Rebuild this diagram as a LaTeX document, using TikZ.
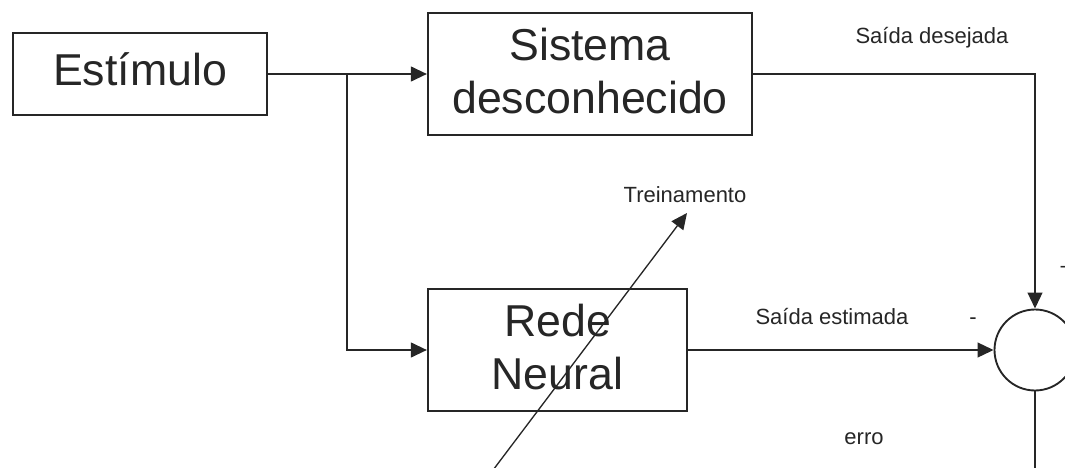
\documentclass[tikz,border=0pt]{standalone}
\usepackage{fontspec}
\setmainfont{Liberation Sans}
\usetikzlibrary{arrows.meta}
\begin{document}
\begin{tikzpicture}[x=0.75pt,y=-0.75pt,color=black!85,
  blk/.style={draw, line width=1.6pt, align=center, inner sep=0pt,
    font=\fontsize{33.5}{40}\selectfont},
  sumnode/.style={draw, circle, line width=1.4pt, inner sep=0pt, minimum size=60.75pt},
  conn/.style={line width=1.6pt},
  tip/.style={-{Triangle[length=12pt,width=11pt]}},
  lbl/.style={font=\fontsize{16.5}{20}\selectfont, anchor=base, inner sep=0pt}]
  \clip (0,0) rectangle (1065,468);

  % blocks
  \node[blk, minimum width=190.5pt, minimum height=61.5pt, text depth=7.5pt] (est) at (140,74) {Estímulo};
  \node[blk, minimum width=243pt, minimum height=91.5pt, text depth=5pt] (sis) at (590,74) {Sistema\\desconhecido};
  \node[blk, minimum width=194.25pt, minimum height=91.5pt, text depth=5pt] (rede) at (557.5,350) {Rede\\Neural};
  \node[sumnode] (sum) at (1035,350) {};

  % helper points
  \coordinate (split) at (347,74);
  \coordinate (errout) at (1035,480);
  \coordinate (trstart) at (478,490);
  \coordinate (trend) at (687,213);

  % signal paths
  \draw[conn, tip] (est.east) -- (sis.west);
  \draw[conn, tip] (split) |- (rede.west);
  \draw[conn, tip] (sis.east) -| (sum.north);
  \draw[conn, tip] (rede.east) -- (sum.west);
  \draw[conn] (sum.south) -- (errout);
  \draw[line width=1pt, tip] (trstart) -- (trend);

  % labels
  \node[lbl] (ldes) at (932,43) {Saída desejada};
  \node[lbl] (lest) at (832,324) {Saída estimada};
  \node[lbl] (ltr) at (685,202) {Treinamento};
  \node[lbl] (lerr) at (864,444) {erro};
  \node[lbl] (lminus) at (973,324) {-};
  \node[lbl] (lplus) at (1066,274) {+};
\end{tikzpicture}
\end{document}
